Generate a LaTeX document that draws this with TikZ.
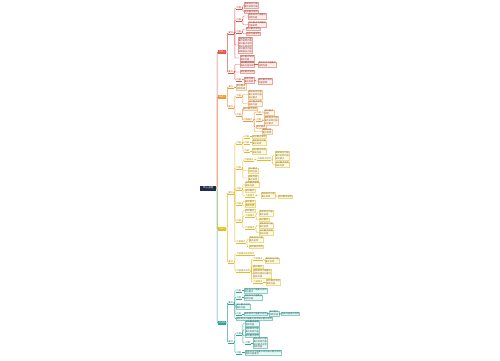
\documentclass[tikz,border=0pt]{standalone}
\usepackage{fontspec}
\newfontfamily\cjk{Noto Sans CJK SC}
\definecolor{navy}{HTML}{1F2D4D}
\definecolor{redbr}{HTML}{E0564A}
\definecolor{orbr}{HTML}{EE9A3A}
\definecolor{yebr}{HTML}{E3BE22}
\definecolor{tebr}{HTML}{2BA597}
\tikzset{
	base/.style={font=\cjk\fontsize{2.2}{2.7}\selectfont, inner sep=0.4pt, anchor=west},
	root/.style={base, anchor=center, fill=navy, text=white, minimum width=16pt, minimum height=5pt, font=\cjk\fontsize{2.6}{3}\selectfont},
	main/.style={base, fill=#1, text=white, minimum width=8pt, minimum height=3.4pt},
	tag/.style={base, text=#1!70!black, append after command={(\tikzlastnode.south west) edge[draw=#1, line width=0.35pt] (\tikzlastnode.south east)}},
	leaf/.style={base, align=left, draw=#1!55, fill=#1!9, line width=0.2pt, text=#1!60!black},
	link/.style={draw=#1, line width=0.45pt, rounded corners=0.8pt},
}
\begin{document}
\begin{tikzpicture}[x=1pt, y=-1pt]
			%%%%% START %%%%%
			\useasboundingbox[fill=white] (0,0) rectangle (500,360);
			
			\node[root] (root) at (208,188) {中心主题};
			
			% red branch
			\node[main=redbr] (red) at (218,52) {分支一};
			\node[tag=redbr] (r1) at (228,33) {要点};
			\node[tag=redbr] (r1a) at (236,8) {内容};
			\node[leaf=redbr] (r1a1) at (244,5) {相关知识内容\\要点说明内容};
			\node[leaf=redbr] (r1a2) at (244,11.5) {知识要点说明};
			\node[tag=redbr] (r1b) at (236,20) {内容};
			\node[leaf=redbr] (r1b1) at (248,16) {相关知识内容要点\\说明内容};
			\node[leaf=redbr] (r1b2) at (248,24.5) {知识要点说明相关\\内容说明};
			\node[tag=redbr] (r1c) at (236,32) {内容};
			\node[leaf=redbr] (r1c1) at (246,29) {知识要点说明};
			\node[leaf=redbr] (r1c2) at (246,33.5) {相关内容说明};
			\node[leaf=redbr] (r1d) at (238,45) {相关知识内容\\要点说明内容\\知识要点说明\\相关内容说明\\知识要点内容\\说明相关内容};
			\node[leaf=redbr] (r1e) at (240,58) {知识要点说明\\相关内容};
			\node[tag=redbr] (r2) at (228,72) {要点};
			\node[leaf=redbr] (r2a) at (240,64.5) {知识要点说明\\相关内容说明};
			\node[leaf=redbr] (r2a1) at (258,64.5) {相关知识内容要点\\说明内容};
			\node[leaf=redbr] (r2b) at (240,72) {知识要点说明};
			\node[tag=redbr] (r2c) at (236,80) {内容};
			\node[leaf=redbr] (r2c1) at (244,80) {相关内容\\要点说明};
			\node[leaf=redbr] (r2c2) at (258,81) {知识要点说明\\内容说明};
			
			% orange branch
			\node[main=orbr] (orange) at (218,97) {分支二};
			\node[tag=orbr] (o1) at (228,87) {要点};
			\node[leaf=orbr] (o1a) at (236,87) {知识要点\\说明内容};
			\node[tag=orbr] (o2) at (228,107) {要点};
			\node[tag=orbr] (o2a) at (236,96) {内容};
			\node[leaf=orbr] (o2a1) at (248,94.5) {相关知识内容\\要点说明内容\\知识要点};
			\node[leaf=orbr] (o2a2) at (248,103.5) {知识要点说明\\相关内容};
			\node[tag=orbr] (o2b) at (236,115) {内容};
			\node[leaf=orbr] (o2b0) at (243,108.8) {知识要点说明};
			\node[tag=orbr] (o2b1) at (243,120) {内容要点};
			\node[tag=orbr] (o2b1a) at (256,112.5) {内容};
			\node[leaf=orbr] (o2b1a1) at (264,112.5) {知识要点\\说明};
			\node[tag=orbr] (o2b1b) at (256,120) {内容};
			\node[leaf=orbr] (o2b1b1) at (264,120.5) {相关知识内容\\要点说明内容\\知识要点};
			\node[leaf=orbr] (o2b1c) at (256,127) {知识要点};
			\node[leaf=orbr] (o2b1d) at (262,131.5) {相关内容\\要点说明};
			
			% yellow branch
			\node[main=yebr] (yellow) at (218,229) {分支三};
			\node[tag=yebr] (ya) at (228,193) {要点};
			\node[tag=yebr] (ya1) at (236,143) {内容};
			\node[tag=yebr] (ya1a) at (244,136.5) {内容};
			\node[leaf=yebr] (ya1a1) at (252,136.5) {知识要点说明};
			\node[tag=yebr] (ya1b) at (244,142.5) {内容};
			\node[leaf=yebr] (ya1b1) at (252,142.5) {相关知识内容\\要点说明};
			\node[tag=yebr] (ya1c) at (244,151) {内容};
			\node[leaf=yebr] (ya1c1) at (252,151) {知识要点说明\\相关内容};
			\node[tag=yebr] (ya2) at (236,168) {内容};
			\node[tag=yebr] (ya2a) at (244,160) {内容要点};
			\node[tag=yebr] (ya2a1) at (257,159) {内容要点说明};
			\node[leaf=yebr] (ya2a1a) at (275,155.5) {相关知识内容\\要点说明内容\\知识要点};
			\node[leaf=yebr] (ya2a1b) at (275,164.5) {知识要点说明\\相关内容};
			\node[leaf=yebr] (ya2b) at (248,170.5) {知识要点\\说明内容};
			\node[leaf=yebr] (ya2c) at (248,178) {相关内容\\要点说明};
			\node[tag=yebr] (ya3) at (236,189) {内容};
			\node[leaf=yebr] (ya3a) at (245,184.5) {知识要点说明\\相关内容};
			\node[leaf=yebr] (ya3b) at (245,190.5) {知识要点};
			\node[tag=yebr] (ya3c) at (245,195.5) {内容要点};
			\node[leaf=yebr] (ya3c1) at (261,195) {相关知识内容\\要点说明};
			\node[leaf=yebr] (ya3c2) at (278,196.5) {知识要点说明};
			\node[tag=yebr] (ya4) at (236,203.5) {内容};
			\node[leaf=yebr] (ya4a) at (245,201.5) {知识要点};
			\node[leaf=yebr] (ya4b) at (245,206) {相关内容};
			\node[tag=yebr] (ya5) at (236,221) {内容};
			\node[leaf=yebr] (ya5a) at (245,210.5) {知识要点};
			\node[tag=yebr] (ya5b) at (245,216) {内容要点};
			\node[leaf=yebr] (ya5b1) at (259,213) {相关知识内容\\要点说明};
			\node[leaf=yebr] (ya5b2) at (259,219.5) {知识要点};
			\node[tag=yebr] (ya5c) at (245,228) {内容要点};
			\node[leaf=yebr] (ya5c1) at (259,225.5) {相关知识内容\\要点说明};
			\node[leaf=yebr] (ya5c2) at (259,232.5) {知识要点说明\\相关内容};
			\node[tag=yebr] (ya6) at (236,242) {内容要点};
			\node[leaf=yebr] (ya6a) at (249,239.5) {相关知识内容\\要点说明};
			\node[leaf=yebr] (ya6b) at (249,247) {知识要点说明};
			\node[tag=yebr] (yc) at (228,262) {要点};
			\node[tag=yebr] (yc1) at (236,254) {内容要点说明知识};
			\node[tag=yebr] (yc2) at (236,271) {内容要点说明};
			\node[tag=yebr] (yc2a) at (253,259) {内容要点};
			\node[leaf=yebr] (yc2a1) at (265,260.5) {相关知识内容\\要点说明};
			\node[leaf=yebr] (yc2b) at (253,266.5) {知识要点};
			\node[leaf=yebr] (yc2c) at (253,273.5) {相关知识内容要点\\说明内容知识要点\\相关内容};
			\node[tag=yebr] (yc2d) at (253,282) {内容要点};
			\node[leaf=yebr] (yc2d1) at (266,282) {知识要点说明\\相关内容};
			
			% teal branch
			\node[main=tebr] (teal) at (218,323) {分支四};
			\node[tag=tebr] (t1) at (228,303) {要点};
			\node[tag=tebr] (t1a) at (236,290.5) {内容};
			\node[leaf=tebr] (t1a1) at (244,290.5) {相关知识内容要点说明\\知识要点};
			\node[tag=tebr] (t1b) at (236,297.5) {内容};
			\node[leaf=tebr] (t1b1) at (244,297.5) {相关知识内容要点\\说明内容};
			\node[leaf=tebr] (t1c) at (236,306.5) {知识要点说明\\相关内容};
			\node[tag=tebr] (t1d) at (236,314) {内容};
			\node[leaf=tebr] (t1d1) at (244,314) {相关知识内容要点说明};
			\node[leaf=tebr] (t1d2) at (269,313.5) {知识要点\\说明内容};
			\node[leaf=tebr] (t1d3) at (281,314) {相关内容要点说明};
			\node[leaf=tebr] (t1e) at (236,318.7) {相关知识内容要点说明知识要点说明};
			\node[tag=tebr] (t2) at (228,342) {要点};
			\node[tag=tebr] (t2a) at (236,333.5) {内容};
			\node[leaf=tebr] (t2a1) at (245,323.5) {知识要点说明\\相关内容};
			\node[leaf=tebr] (t2a2) at (245,330) {相关知识内容\\要点说明内容};
			\node[leaf=tebr] (t2a3) at (245,335.5) {知识要点说明};
			\node[tag=tebr] (t2a4) at (245,343) {内容};
			\node[leaf=tebr] (t2a41) at (253,343) {相关知识内容\\要点说明内容\\知识要点说明\\相关内容};
			\node[tag=tebr] (t2b) at (236,352.5) {内容};
			\node[leaf=tebr] (t2b1) at (245,352.5) {相关知识内容要点说明知识要点说明\\相关内容要点};
			
			% spine
			\draw[link=orbr] (root.east) -- ++(1,0) |- (orange.west);
			\draw[link=redbr] (root.east) -- ++(1,0) |- (red.west);
			\draw[link=yebr] (root.east) -- ++(1,0) |- (yellow.west);
			\draw[link=tebr] (root.east) -- ++(1,0) |- (teal.west);
			
			% red links
			\foreach \c in {r1,r2} \draw[link=redbr] (red.east) -- ++(1,0) |- (\c.west);
			\foreach \c in {r1a,r1b,r1c,r1d,r1e} \draw[link=redbr] (r1.east) -- ++(1.2,0) |- (\c.west);
			\draw[link=redbr] (r1a.east) -- ++(1.2,0) |- (r1a1.west);
			\draw[link=redbr] (r1a.east) -- ++(1.2,0) |- (r1a2.west);
			\draw[link=redbr] (r1b.east) -- ++(1.2,0) |- (r1b1.west);
			\draw[link=redbr] (r1b.east) -- ++(1.2,0) |- (r1b2.west);
			\draw[link=redbr] (r1c.east) -- ++(1.2,0) |- (r1c1.west);
			\draw[link=redbr] (r1c.east) -- ++(1.2,0) |- (r1c2.west);
			\foreach \c in {r2a,r2b,r2c} \draw[link=redbr] (r2.east) -- ++(1.2,0) |- (\c.west);
			\draw[link=redbr] (r2a.east) -- (r2a1.west);
			\draw[link=redbr] (r2c.east) -- ++(1.2,0) |- (r2c1.west);
			\draw[link=redbr] (r2c1.east) -- ++(1.2,0) |- (r2c2.west);
			
			% orange links
			\foreach \c in {o1,o2} \draw[link=orbr] (orange.east) -- ++(1,0) |- (\c.west);
			\draw[link=orbr] (o1.east) -- (o1a.west);
			\foreach \c in {o2a,o2b} \draw[link=orbr] (o2.east) -- ++(1.2,0) |- (\c.west);
			\foreach \c in {o2a1,o2a2} \draw[link=orbr] (o2a.east) -- ++(1.2,0) |- (\c.west);
			\foreach \c in {o2b0,o2b1} \draw[link=orbr] (o2b.east) -- ++(0.8,0) |- (\c.west);
			\foreach \c in {o2b1a,o2b1b,o2b1c,o2b1d} \draw[link=orbr] (o2b1.east) -- ++(1.2,0) |- (\c.west);
			\draw[link=orbr] (o2b1a.east) -- ++(1.2,0) |- (o2b1a1.west);
			\draw[link=orbr] (o2b1b.east) -- ++(1.2,0) |- (o2b1b1.west);
			
			% yellow links
			\foreach \c in {ya,yc} \draw[link=yebr] (yellow.east) -- ++(1,0) |- (\c.west);
			\foreach \c in {ya1,ya2,ya3,ya4,ya5,ya6} \draw[link=yebr] (ya.east) -- ++(1.2,0) |- (\c.west);
			\foreach \c in {ya1a,ya1b,ya1c} \draw[link=yebr] (ya1.east) -- ++(1.2,0) |- (\c.west);
			\draw[link=yebr] (ya1a.east) -- (ya1a1.west);
			\draw[link=yebr] (ya1b.east) -- (ya1b1.west);
			\draw[link=yebr] (ya1c.east) -- (ya1c1.west);
			\foreach \c in {ya2a,ya2b,ya2c} \draw[link=yebr] (ya2.east) -- ++(1.2,0) |- (\c.west);
			\draw[link=yebr] (ya2a.east) -- ++(1.2,0) |- (ya2a1.west);
			\foreach \c in {ya2a1a,ya2a1b} \draw[link=yebr] (ya2a1.east) -- ++(1.2,0) |- (\c.west);
			\foreach \c in {ya3a,ya3b,ya3c} \draw[link=yebr] (ya3.east) -- ++(1.2,0) |- (\c.west);
			\draw[link=yebr] (ya3c.east) -- ++(1.2,0) |- (ya3c1.west);
			\draw[link=yebr] (ya3c1.east) -- ++(1,0) |- (ya3c2.west);
			\foreach \c in {ya4a,ya4b} \draw[link=yebr] (ya4.east) -- ++(1.2,0) |- (\c.west);
			\foreach \c in {ya5a,ya5b,ya5c} \draw[link=yebr] (ya5.east) -- ++(1.2,0) |- (\c.west);
			\foreach \c in {ya5b1,ya5b2} \draw[link=yebr] (ya5b.east) -- ++(1.2,0) |- (\c.west);
			\foreach \c in {ya5c1,ya5c2} \draw[link=yebr] (ya5c.east) -- ++(1.2,0) |- (\c.west);
			\foreach \c in {ya6a,ya6b} \draw[link=yebr] (ya6.east) -- ++(1.2,0) |- (\c.west);
			\foreach \c in {yc1,yc2} \draw[link=yebr] (yc.east) -- ++(1.2,0) |- (\c.west);
			\foreach \c in {yc2a,yc2b,yc2c,yc2d} \draw[link=yebr] (yc2.east) -- ++(1.2,0) |- (\c.west);
			\draw[link=yebr] (yc2a.east) -- ++(1,0) |- (yc2a1.west);
			\draw[link=yebr] (yc2d.east) -- (yc2d1.west);
			
			% teal links
			\foreach \c in {t1,t2} \draw[link=tebr] (teal.east) -- ++(1,0) |- (\c.west);
			\foreach \c in {t1a,t1b,t1c,t1d,t1e} \draw[link=tebr] (t1.east) -- ++(1.2,0) |- (\c.west);
			\draw[link=tebr] (t1a.east) -- (t1a1.west);
			\draw[link=tebr] (t1b.east) -- (t1b1.west);
			\draw[link=tebr] (t1d.east) -- (t1d1.west);
			\draw[link=tebr] (t1d1.east) -- ++(1,0) |- (t1d2.west);
			\draw[link=tebr] (t1d2.east) -- ++(1,0) |- (t1d3.west);
			\foreach \c in {t2a,t2b} \draw[link=tebr] (t2.east) -- ++(1.2,0) |- (\c.west);
			\foreach \c in {t2a1,t2a2,t2a3,t2a4} \draw[link=tebr] (t2a.east) -- ++(1.2,0) |- (\c.west);
			\draw[link=tebr] (t2a4.east) -- (t2a41.west);
			\draw[link=tebr] (t2b.east) -- (t2b1.west);
			
			%%%%% END %%%%%
\end{tikzpicture}
\end{document}
